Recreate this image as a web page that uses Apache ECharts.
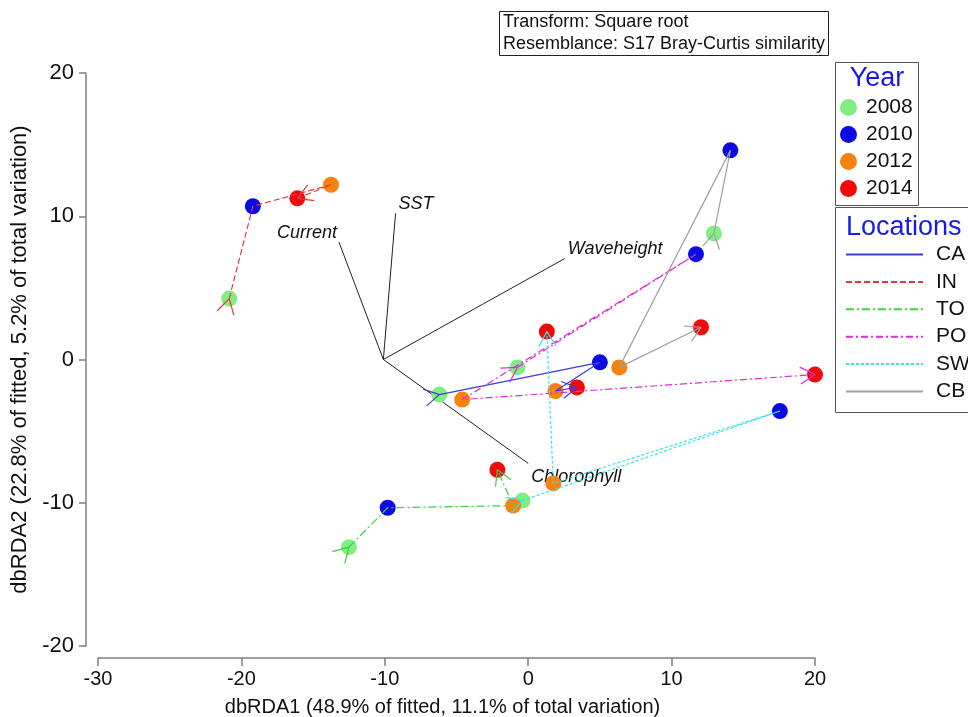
<!DOCTYPE html>
<html>
<head>
<meta charset="utf-8">
<script src="https://cdn.jsdelivr.net/npm/echarts@6/dist/echarts.min.js"></script>
<style>
  html, body { margin: 0; padding: 0; background: #fff; }
  #main { width: 968px; height: 717px; }
</style>
</head>
<body>
<div id="main"></div>
<script>
// years and locations
var years = ['2008', '2010', '2012', '2014'];
var yearColors = ['#82ee82', '#0a0ae2', '#f8820e', '#f20a0a'];
var locations = ['CA', 'IN', 'TO', 'PO', 'SW', 'CB'];
var locColors = ['#3c3cd6', '#e03a3a', '#3cd23c', '#e028e0', '#38e0f0', '#a0a0a0'];
var locDash = ['solid', [6, 3], [8, 3, 2, 3], [7, 3, 2, 3], [3, 2], 'solid'];

// dbRDA coords per location, in year order 2008, 2010, 2012, 2014
var CA = [[-6.2, -2.45], [5.0, -0.2], [1.9, -2.2], [3.4, -1.95]];
var IN = [[-20.85, 4.25], [-19.2, 10.7], [-13.75, 12.2], [-16.1, 11.25]];
var TO = [[-12.5, -13.1], [-9.8, -10.35], [-1.05, -10.2], [-2.15, -7.7]];
var PO = [[-0.75, -0.55], [11.7, 7.35], [-4.6, -2.8], [20.0, -1.05]];
var SW = [[-0.4, -9.85], [17.55, -3.6], [1.75, -8.65], [1.3, 1.95]];
var CB = [[12.95, 8.8], [14.1, 14.6], [6.35, -0.55], [12.05, 2.25]];
var locData = [CA, IN, TO, PO, SW, CB];

// environmental vectors
var vecOrigin = [-10.1, 0];
var vecNames = ['Current', 'SST', 'Waveheight', 'Chlorophyll'];
var vecEnds = [[-13.2, 8.2], [-9.25, 10.2], [2.55, 7.05], [0.0, -7.25]];

var xTicks = { min: -30, max: 20, interval: 10 };
var yTicks = { min: -20, max: 20, interval: 10 };

var font = '"Liberation Sans", Arial, sans-serif';
var myChart = echarts.init(document.getElementById('main'));

var series = [];

// year points
years.forEach(function (yr, i) {
    series.push({
        name: yr,
        type: 'scatter',
        symbolSize: 16,
        itemStyle: { color: yearColors[i], opacity: 1 },
        z: 2,
        data: locData.map(function (loc) { return loc[i]; })
    });
});

// trajectories
locations.forEach(function (loc, i) {
    series.push({
        name: loc,
        type: 'line',
        symbol: 'none',
        z: 3,
        lineStyle: { color: locColors[i], width: 1.2, type: locDash[i] },
        itemStyle: { color: locColors[i] },
        data: locData[i]
    });
});

// arrow heads at start and end of each trajectory
var arrowData = [];
locData.forEach(function (pts, i) {
    arrowData.push([pts[0][0], pts[0][1], pts[0][0], pts[0][1], pts[1][0], pts[1][1], i]);
    arrowData.push([pts[3][0], pts[3][1], pts[2][0], pts[2][1], pts[3][0], pts[3][1], i]);
});
series.push({
    type: 'custom',
    z: 4,
    silent: true,
    data: arrowData,
    renderItem: function (params, api) {
        var tip = api.coord([api.value(0), api.value(1)]);
        var a = api.coord([api.value(2), api.value(3)]);
        var b = api.coord([api.value(4), api.value(5)]);
        var idx = api.value(6);
        var dx = b[0] - a[0], dy = b[1] - a[1];
        var len = Math.sqrt(dx * dx + dy * dy) || 1;
        dx /= len; dy /= len;
        var L = 17, ang = Math.PI / 6;
        var children = [];
        [ang, -ang].forEach(function (t) {
            var rx = dx * Math.cos(t) - dy * Math.sin(t);
            var ry = dx * Math.sin(t) + dy * Math.cos(t);
            children.push({
                type: 'line',
                shape: { x1: tip[0], y1: tip[1], x2: tip[0] - L * rx, y2: tip[1] - L * ry },
                style: { stroke: locColors[idx], lineWidth: 1.2 }
            });
        });
        return { type: 'group', children: children };
    }
});

// vectors
var vecData = vecEnds.map(function (e, i) { return [vecOrigin[0], vecOrigin[1], e[0], e[1], i]; });
var vecLabelPos = [
    { align: 'right', dx: -2, dy: -9 },
    { align: 'left', dx: 3, dy: -9 },
    { align: 'left', dx: 3, dy: -10 },
    { align: 'left', dx: 3, dy: 14 }
];
series.push({
    type: 'custom',
    z: 1,
    silent: true,
    data: vecData,
    renderItem: function (params, api) {
        var o = api.coord([api.value(0), api.value(1)]);
        var e = api.coord([api.value(2), api.value(3)]);
        var i = api.value(4);
        var lp = vecLabelPos[i];
        return {
            type: 'group',
            children: [{
                type: 'line',
                shape: { x1: o[0], y1: o[1], x2: e[0], y2: e[1] },
                style: { stroke: '#222', lineWidth: 1 }
            }, {
                type: 'text',
                x: e[0] + lp.dx,
                y: e[1] + lp.dy,
                style: {
                    text: vecNames[i],
                    fill: '#111',
                    font: 'italic 18px ' + font,
                    align: lp.align,
                    verticalAlign: 'middle'
                }
            }]
        };
    }
});

var option = {
    backgroundColor: '#fff',
    animation: false,
    grid: { left: 98, right: 153, top: 73, bottom: 71, outerBoundsMode: 'none' },
    xAxis: {
        type: 'value',
        min: xTicks.min, max: xTicks.max, interval: xTicks.interval,
        offset: 12,
        name: 'dbRDA1 (48.9% of fitted, 11.1% of total variation)',
        nameLocation: 'middle',
        nameGap: 39,
        nameTextStyle: { fontSize: 20, color: '#111', fontFamily: font, padding: [0, 28, 0, 0] },
        axisLine: { onZero: false, lineStyle: { color: '#808080', width: 1.5 } },
        axisTick: { length: 8, lineStyle: { color: '#808080', width: 1.5 } },
        axisLabel: { fontSize: 20, color: '#111', fontFamily: font, margin: 11 },
        splitLine: { show: false }
    },
    yAxis: {
        type: 'value',
        min: yTicks.min, max: yTicks.max, interval: yTicks.interval,
        offset: 12,
        name: 'dbRDA2 (22.8% of fitted, 5.2% of total variation)',
        nameLocation: 'middle',
        nameGap: 39,
        nameTextStyle: { fontSize: 22, color: '#111', fontFamily: font },
        axisLine: { onZero: false, lineStyle: { color: '#808080', width: 1.5 } },
        axisTick: { length: 7, lineStyle: { color: '#808080', width: 1.5 } },
        axisLabel: { fontSize: 22, color: '#111', fontFamily: font, margin: 12 },
        splitLine: { show: false }
    },
    legend: [{
        data: years,
        orient: 'vertical',
        left: 840,
        top: 97,
        padding: 0,
        icon: 'circle',
        itemWidth: 17,
        itemHeight: 17,
        itemGap: 6,
        selectedMode: false,
        textStyle: { fontSize: 21, lineHeight: 20, color: '#111', fontFamily: font, padding: [0, 0, 0, 4] }
    }, {
        data: locations,
        orient: 'vertical',
        left: 845,
        top: 244,
        padding: 0,
        itemWidth: 77,
        itemHeight: 14,
        itemGap: 6.4,
        selectedMode: false,
        itemStyle: { opacity: 0 },
        textStyle: { fontSize: 21, lineHeight: 20, color: '#111', fontFamily: font, padding: [0, 0, 0, 8] }
    }],
    graphic: [
        { type: 'rect', shape: { x: 499.5, y: 11.5, width: 329, height: 44 },
          style: { fill: '#fff', stroke: '#222', lineWidth: 1 } },
        { type: 'text', x: 503, y: 22, style: { text: 'Transform: Square root', font: '18px ' + font, fill: '#111', verticalAlign: 'middle' } },
        { type: 'text', x: 503, y: 44, style: { text: 'Resemblance: S17 Bray-Curtis similarity', font: '18px ' + font, fill: '#111', verticalAlign: 'middle' } },
        { type: 'rect', shape: { x: 835.5, y: 62.5, width: 83, height: 143 },
          style: { fill: 'none', stroke: '#555', lineWidth: 1 } },
        { type: 'text', x: 877, y: 79, style: { text: 'Year', font: '27px ' + font, fill: '#1a1ae6', align: 'center', verticalAlign: 'middle' } },
        { type: 'rect', shape: { x: 835.5, y: 207.5, width: 140, height: 205 },
          style: { fill: 'none', stroke: '#555', lineWidth: 1 } },
        { type: 'text', x: 846, y: 228, style: { text: 'Locations', font: '27px ' + font, fill: '#1a1ae6', verticalAlign: 'middle' } }
    ],
    series: series
};

myChart.setOption(option);
</script>
</body>
</html>
